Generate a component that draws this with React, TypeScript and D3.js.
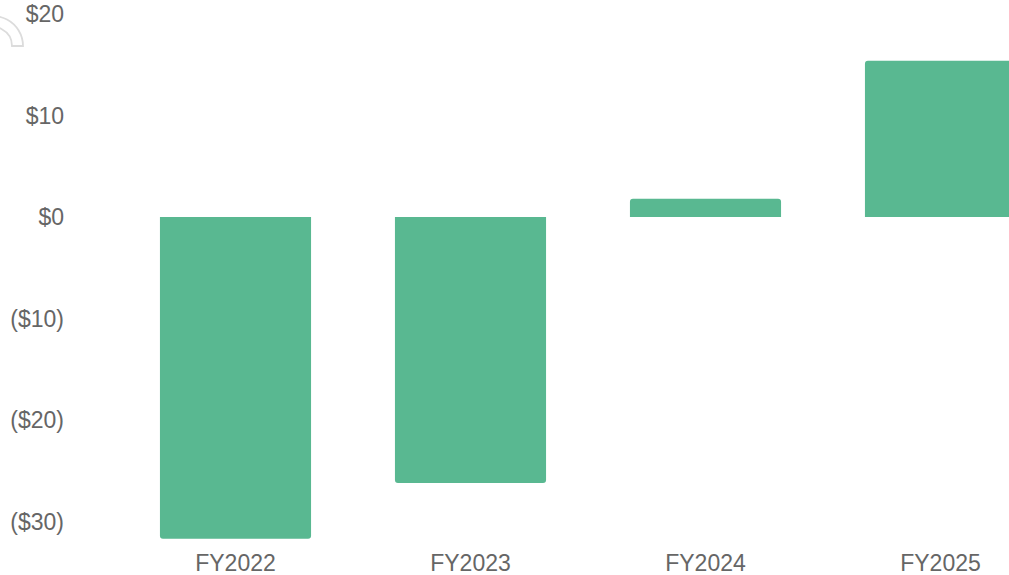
import React from "react";
import * as d3 from "d3";

const categories = ["FY2022", "FY2023", "FY2024", "FY2025"];
const values = [-31.7, -26.2, 1.8, 15.4];
const tickValues = [20, 10, 0, -10, -20, -30];
const tickLabels = ["$20", "$10", "$0", "($10)", "($20)", "($30)"];

const W = 1009;
const H = 575;
const BAR = "#59b891";
const TXT = "#666666";

function barPath(x0: number, x1: number, yBase: number, yEnd: number, r: number) {
  const p = d3.path();
  const dir = yEnd < yBase ? -1 : 1;
  const h = Math.abs(yEnd - yBase);
  const rr = Math.min(r, h / 2, (x1 - x0) / 2);
  p.moveTo(x0, yBase);
  p.lineTo(x0, yEnd - dir * rr);
  p.quadraticCurveTo(x0, yEnd, x0 + rr, yEnd);
  p.lineTo(x1 - rr, yEnd);
  p.quadraticCurveTo(x1, yEnd, x1, yEnd - dir * rr);
  p.lineTo(x1, yBase);
  p.closePath();
  return p.toString();
}

export default function App() {
  const x = d3
    .scaleBand<string>()
    .domain(categories)
    .range([118, 1058])
    .paddingInner(0.357)
    .paddingOuter(0.1785);
  const y = d3.scaleLinear().domain([0, 20]).range([217, 14]);

  const arc = d3.arc()({
    innerRadius: 19,
    outerRadius: 30,
    startAngle: -0.6,
    endAngle: Math.PI / 2,
    cornerRadius: 2,
  } as any) as string;

  return (
    <svg
      width={W}
      height={H}
      style={{ position: "absolute", left: 0, top: 0, display: "block" }}
      fontFamily="'Liberation Sans', Arial, sans-serif"
    >
      <rect x={0} y={0} width={W} height={H} fill="#fff" />
      <path
        d={arc}
        transform="translate(-7,46)"
        fill="none"
        stroke="#dcdcdc"
        strokeWidth={1.8}
      />
      {tickValues.map((v, i) => (
        <text
          key={v}
          x={64}
          y={y(v)}
          dy="0.35em"
          textAnchor="end"
          fontSize={23}
          fill={TXT}
        >
          {tickLabels[i]}
        </text>
      ))}
      {categories.map((c, i) => {
        const x0 = x(c)!;
        const x1 = x0 + x.bandwidth();
        return (
          <path key={c} d={barPath(x0, x1, y(0), y(values[i]), 3)} fill={BAR} />
        );
      })}
      {categories.map((c) => (
        <text
          key={c}
          x={x(c)! + x.bandwidth() / 2}
          y={563}
          dy="0.35em"
          textAnchor="middle"
          fontSize={23}
          fill={TXT}
        >
          {c}
        </text>
      ))}
    </svg>
  );
}
